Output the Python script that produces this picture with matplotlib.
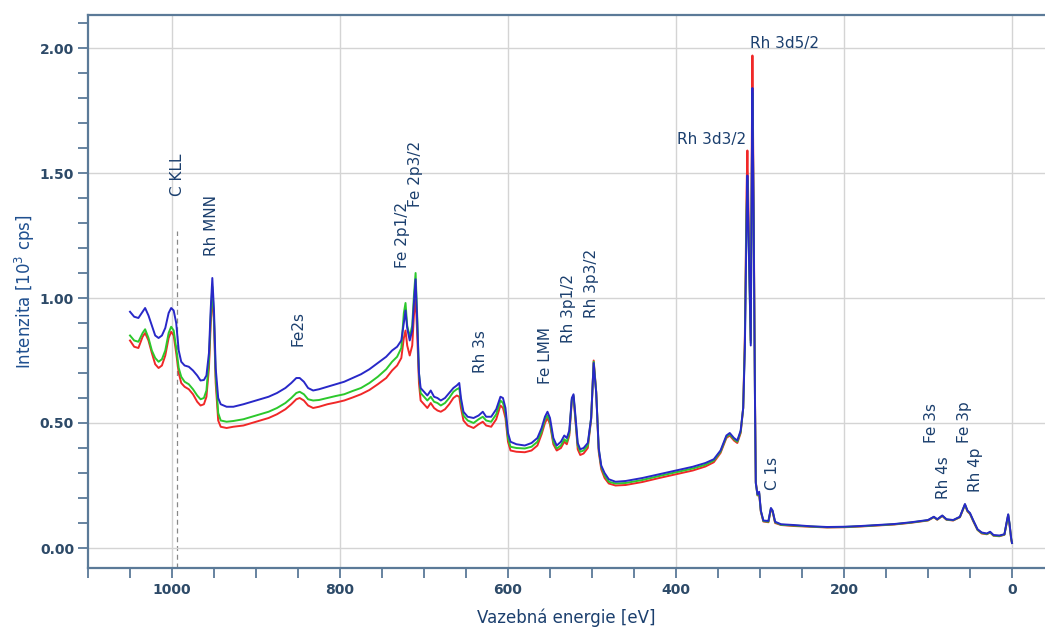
import matplotlib
matplotlib.use("Agg")
import matplotlib.pyplot as plt
from matplotlib.ticker import MultipleLocator, FormatStrFormatter

# ---------------- data ----------------
energy = [1050, 1045, 1040, 1035, 1032, 1028, 1024, 1020, 1016, 1012, 1008, 1004, 1001, 998, 995,
          992, 989, 985, 980, 975, 970, 966, 962, 959, 956, 954, 952, 950, 948, 945, 942, 935,
          927, 915, 905, 895, 885, 875, 865, 858, 852, 848, 843, 838, 832, 825, 815, 805, 795,
          785, 775, 765, 755, 745, 738, 732, 727, 724, 722, 720, 717, 714, 712, 710, 708, 706,
          704, 700, 696, 692, 688, 684, 680, 675, 670, 665, 661, 658, 656, 653, 648, 641, 635,
          630, 626, 620, 614, 609, 606, 603, 600, 597, 590, 580, 572, 565, 560, 556, 553, 550,
          546, 542, 537, 533, 530, 527, 524, 522, 520, 517, 514, 510, 505, 501, 498, 495, 492,
          489, 485, 480, 472, 460, 440, 420, 400, 380, 365, 355, 347, 340, 336, 331, 327, 323,
          320, 318, 316, 315, 313, 311, 310, 309, 307.5, 306, 305, 303, 301, 299, 296, 290, 287,
          285, 282, 275, 260, 240, 220, 200, 180, 160, 140, 120, 100, 93, 89, 83, 78, 70, 62,
          56, 53, 50, 46, 41, 36, 30, 26, 22, 15, 9, 6, 4.5, 3, 1, 0]

blue = [0.945, 0.925, 0.920, 0.945, 0.960, 0.930, 0.890, 0.850, 0.840, 0.850, 0.880, 0.940, 0.960, 0.950, 0.900,
        0.790, 0.745, 0.730, 0.725, 0.710, 0.690, 0.670, 0.672, 0.690, 0.780, 0.950, 1.080, 0.950, 0.720, 0.600, 0.575, 0.565,
        0.565, 0.575, 0.585, 0.595, 0.605, 0.620, 0.640, 0.660, 0.680, 0.680, 0.665, 0.640, 0.630, 0.635, 0.645, 0.655, 0.665,
        0.680, 0.695, 0.715, 0.740, 0.765, 0.790, 0.805, 0.830, 0.900, 0.950, 0.880, 0.830, 0.870, 0.980, 1.075, 0.900, 0.700,
        0.640, 0.625, 0.610, 0.630, 0.605, 0.600, 0.590, 0.600, 0.620, 0.640, 0.650, 0.660, 0.600, 0.545, 0.525, 0.520, 0.530,
        0.545, 0.525, 0.525, 0.555, 0.605, 0.600, 0.560, 0.460, 0.425, 0.415, 0.410, 0.420, 0.440, 0.480, 0.525, 0.545, 0.520,
        0.440, 0.410, 0.425, 0.450, 0.440, 0.470, 0.600, 0.615, 0.540, 0.420, 0.395, 0.400, 0.420, 0.520, 0.740, 0.620, 0.400,
        0.330, 0.300, 0.275, 0.265, 0.268, 0.280, 0.295, 0.310, 0.325, 0.340, 0.355, 0.390, 0.450, 0.460, 0.440, 0.430, 0.470,
        0.560, 0.800, 1.300, 1.490, 1.150, 0.810, 1.400, 1.840, 1.300, 0.600, 0.260, 0.215, 0.225, 0.150, 0.110, 0.108, 0.160,
        0.150, 0.105, 0.095, 0.092, 0.087, 0.084, 0.085, 0.088, 0.092, 0.096, 0.103, 0.112, 0.125, 0.115, 0.130, 0.115, 0.112, 0.125,
        0.176, 0.150, 0.140, 0.110, 0.075, 0.062, 0.058, 0.065, 0.052, 0.050, 0.055, 0.110, 0.135, 0.100, 0.040, 0.020]

green = [0.850, 0.830, 0.825, 0.860, 0.875, 0.840, 0.790, 0.760, 0.745, 0.755, 0.790, 0.860, 0.885, 0.870, 0.800,
         0.720, 0.685, 0.665, 0.655, 0.635, 0.610, 0.595, 0.600, 0.630, 0.750, 0.920, 1.045, 0.920, 0.690, 0.540, 0.510, 0.505,
         0.508, 0.515, 0.525, 0.535, 0.545, 0.560, 0.580, 0.600, 0.620, 0.625, 0.615, 0.595, 0.590, 0.592, 0.600, 0.608, 0.615,
         0.628, 0.640, 0.660, 0.685, 0.715, 0.745, 0.765, 0.800, 0.940, 0.980, 0.890, 0.845, 0.890, 1.010, 1.100, 0.920, 0.700,
         0.620, 0.605, 0.590, 0.605, 0.585, 0.580, 0.570, 0.580, 0.600, 0.625, 0.635, 0.640, 0.585, 0.530, 0.510, 0.500, 0.515,
         0.525, 0.510, 0.505, 0.535, 0.590, 0.580, 0.540, 0.440, 0.405, 0.400, 0.398, 0.405, 0.425, 0.465, 0.515, 0.530, 0.505,
         0.425, 0.398, 0.410, 0.435, 0.425, 0.460, 0.595, 0.610, 0.530, 0.410, 0.385, 0.390, 0.410, 0.520, 0.745, 0.625, 0.395,
         0.325, 0.290, 0.265, 0.258, 0.260, 0.272, 0.288, 0.303, 0.318, 0.333, 0.350, 0.385, 0.445, 0.455, 0.435, 0.425, 0.465,
         0.560, 0.820, 1.350, 1.470, 1.150, 0.820, 1.400, 1.820, 1.300, 0.600, 0.260, 0.212, 0.220, 0.148, 0.108, 0.105, 0.158,
         0.148, 0.103, 0.093, 0.090, 0.086, 0.083, 0.084, 0.087, 0.091, 0.095, 0.102, 0.111, 0.124, 0.114, 0.129, 0.114, 0.111, 0.124,
         0.174, 0.148, 0.138, 0.108, 0.073, 0.060, 0.056, 0.063, 0.050, 0.048, 0.054, 0.108, 0.133, 0.098, 0.038, 0.020]

red = [0.830, 0.805, 0.800, 0.845, 0.860, 0.830, 0.780, 0.735, 0.720, 0.730, 0.770, 0.840, 0.865, 0.850, 0.780,
       0.700, 0.660, 0.645, 0.635, 0.615, 0.585, 0.570, 0.575, 0.605, 0.720, 0.890, 1.020, 0.900, 0.660, 0.510, 0.485, 0.480,
       0.485, 0.490, 0.500, 0.510, 0.520, 0.535, 0.555, 0.575, 0.595, 0.600, 0.590, 0.570, 0.560, 0.565, 0.575, 0.582, 0.590,
       0.602, 0.615, 0.632, 0.655, 0.680, 0.710, 0.730, 0.760, 0.840, 0.870, 0.810, 0.770, 0.810, 0.930, 1.005, 0.850, 0.660,
       0.590, 0.575, 0.560, 0.580, 0.560, 0.550, 0.545, 0.555, 0.575, 0.600, 0.610, 0.605, 0.560, 0.510, 0.490, 0.480, 0.495,
       0.505, 0.490, 0.485, 0.515, 0.570, 0.560, 0.520, 0.425, 0.390, 0.385, 0.383, 0.390, 0.410, 0.455, 0.500, 0.520, 0.495,
       0.415, 0.390, 0.400, 0.425, 0.415, 0.450, 0.590, 0.605, 0.520, 0.395, 0.372, 0.378, 0.400, 0.515, 0.750, 0.625, 0.385,
       0.315, 0.280, 0.258, 0.250, 0.252, 0.264, 0.280, 0.295, 0.310, 0.326, 0.343, 0.380, 0.440, 0.450, 0.430, 0.420, 0.460,
       0.560, 0.850, 1.420, 1.590, 1.200, 0.830, 1.500, 1.970, 1.350, 0.620, 0.265, 0.210, 0.218, 0.145, 0.106, 0.103, 0.155,
       0.145, 0.100, 0.092, 0.088, 0.085, 0.082, 0.083, 0.086, 0.090, 0.094, 0.101, 0.110, 0.123, 0.113, 0.128, 0.113, 0.110, 0.123,
       0.172, 0.146, 0.136, 0.106, 0.072, 0.058, 0.055, 0.062, 0.049, 0.047, 0.053, 0.106, 0.130, 0.095, 0.036, 0.020]

# peak labels: (text, energy, y of text base, rotation)
peak_labels = [
    ("C KLL", 993.5, 1.41, 90),
    ("Rh MNN", 953, 1.17, 90),
    ("Fe2s", 850, 0.81, 90),
    ("Fe 2p1/2", 725, 1.12, 90),
    ("Fe 2p3/2", 710.5, 1.365, 90),
    ("Rh 3s", 633, 0.70, 90),
    ("Fe LMM", 555, 0.655, 90),
    ("Rh 3p1/2", 528, 0.82, 90),
    ("Rh 3p3/2", 500, 0.92, 90),
    ("C 1s", 285, 0.232, 90),
    ("Fe 3s", 96, 0.42, 90),
    ("Rh 4s", 82, 0.196, 90),
    ("Fe 3p", 56, 0.42, 90),
    ("Rh 4p", 43.5, 0.224, 90),
]
horiz_labels = [
    ("Rh 3d3/2", 316.5, 1.636, "right"),
    ("Rh 3d5/2", 312, 2.02, "left"),
]
ckll_marker = 994

x_ticks = [1000, 800, 600, 400, 200, 0]
y_ticks = [0.0, 0.5, 1.0, 1.5, 2.0]

# ---------------- figure ----------------
fig = plt.figure(figsize=(10.45, 6.32), dpi=100)
ax = fig.add_axes([88 / 1045, 1 - 568 / 632, 1 - 88 / 1045, (568 - 15) / 632])

spine_col = "#5b7a98"
tick_col = "#2d4a68"
text_col = "#1b3f6e"

ax.set_xlim(1100, -39.3)
ax.set_ylim(-0.08, 2.132)

ax.set_xticks(x_ticks)
ax.set_yticks(y_ticks)
ax.xaxis.set_minor_locator(MultipleLocator(50))
ax.yaxis.set_minor_locator(MultipleLocator(0.1))
ax.yaxis.set_major_formatter(FormatStrFormatter("%.2f"))
ax.grid(True, which="major", color="#d4d4d4", linewidth=1.0, zorder=0)

for s in ["left", "top", "bottom"]:
    ax.spines[s].set_color(spine_col)
    ax.spines[s].set_linewidth(1.6)
ax.spines["right"].set_visible(False)

ax.tick_params(axis="both", which="both", direction="out", color=spine_col, width=1.3)
ax.tick_params(axis="both", which="major", length=7, labelsize=10, labelcolor=tick_col)
ax.tick_params(axis="both", which="minor", length=7)
ax.tick_params(axis="x", pad=4)
ax.tick_params(axis="y", pad=3)
for lab in ax.get_xticklabels() + ax.get_yticklabels():
    lab.set_fontweight("bold")

ax.plot([ckll_marker, ckll_marker], [-0.08, 1.27], color="#888888", linestyle=(0, (4, 3)),
        linewidth=0.9, zorder=1)

ax.plot(energy, red, color="#f02828", linewidth=1.4, zorder=3)
ax.plot(energy, green, color="#2cc82c", linewidth=1.4, zorder=4)
ax.plot(energy, blue, color="#2828c8", linewidth=1.4, zorder=5)

for txt, e, yv, rot in peak_labels:
    ax.text(e, yv, txt, rotation=rot, ha="center", va="bottom", fontsize=11,
            color=text_col, zorder=6)
for txt, e, yv, ha in horiz_labels:
    ax.text(e, yv, txt, ha=ha, va="center", fontsize=11, color=text_col, zorder=6)

ax.set_ylabel("Intenzita [10$^3$ cps]", fontsize=12, color="#1f4f8f", labelpad=2)
ax.set_xlabel("Vazebná energie [eV]", fontsize=12, color=text_col, labelpad=8)

fig.savefig("out.png", dpi=100)
